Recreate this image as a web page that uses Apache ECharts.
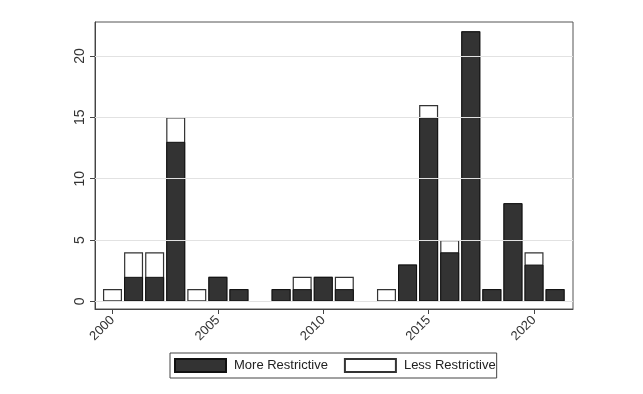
<!DOCTYPE html>
<html>
<head>
<meta charset="utf-8">
<script src="https://cdn.jsdelivr.net/npm/echarts@6/dist/echarts.min.js"></script>
<style>html,body{margin:0;padding:0;background:#fff}#c{width:643px;height:394px}</style>
</head>
<body>
<div id="c"></div>
<script>
var years = [2000,2001,2002,2003,2004,2005,2006,2007,2008,2009,2010,2011,2012,2013,2014,2015,2016,2017,2018,2019,2020,2021];
var moreRestrictive = [0,2,2,13,0,2,1,0,1,1,2,1,0,0,3,15,4,22,1,8,3,1];
var lessRestrictive = [1,2,2,2,1,0,0,0,0,1,0,1,0,1,0,1,1,0,0,0,1,0];
var yTicks = [0,5,10,15,20];
var xTicks = [2000,2005,2010,2015,2020];

function pairs(vals){ return years.map(function(y,i){ return [y, vals[i] === 0 ? '-' : vals[i]]; }); }
var totals = moreRestrictive.map(function(v,i){ return v + lessRestrictive[i]; });

var chart = echarts.init(document.getElementById('c'), null, {renderer:'canvas'});
chart.setOption({
  animation:false,
  backgroundColor:'#fff',
  grid:{left:95,right:70,top:22,bottom:85,show:true,borderColor:'#555',borderWidth:1,backgroundColor:'transparent'},
  xAxis:{type:'value',min:1999.17,max:2021.85,
    axisLine:{show:true,onZero:false,lineStyle:{color:'#444'}},
    axisTick:{show:true,length:5,lineStyle:{color:'#444'},customValues:xTicks},
    axisLabel:{rotate:45,color:'#333',fontSize:13,fontFamily:'Liberation Sans, Arial',customValues:xTicks,margin:9,
      formatter:function(v){return String(Math.round(v));}},
    splitLine:{show:false}},
  yAxis:{type:'value',min:-0.62,max:22.76,
    axisLine:{show:true,lineStyle:{color:'#444'}},
    axisTick:{show:true,length:5,lineStyle:{color:'#444'},customValues:yTicks},
    axisLabel:{rotate:90,color:'#333',fontSize:14,fontFamily:'Liberation Sans, Arial',customValues:yTicks,margin:8},
    splitLine:{show:false}},
  legend:{left:170,top:353,orient:'horizontal',itemWidth:51,itemHeight:13,itemGap:16,
    padding:[5,1,5,4],borderColor:'#444',borderWidth:1,icon:'rect',
    textStyle:{fontSize:13,color:'#222',fontFamily:'Liberation Sans, Arial',padding:[0,0,0,3]},
    data:['More Restrictive','Less Restrictive']},
  series:[
    {type:'line',data:[],silent:true,z:0,
     markLine:{symbol:'none',silent:true,label:{show:false},lineStyle:{color:'#e2e2e2',type:'solid',width:1},
       data:yTicks.map(function(v){return {yAxis:v};})}},
    {name:'Less Restrictive',type:'bar',barWidth:19,barGap:'-100%',data:pairs(totals),
     itemStyle:{color:'#ffffff',borderColor:'#333',borderWidth:1.2}},
    {name:'More Restrictive',type:'bar',barWidth:19,barGap:'-100%',data:pairs(moreRestrictive),
     itemStyle:{color:'#333333',borderColor:'#111',borderWidth:1}}
  ]
});
</script>
</body>
</html>
